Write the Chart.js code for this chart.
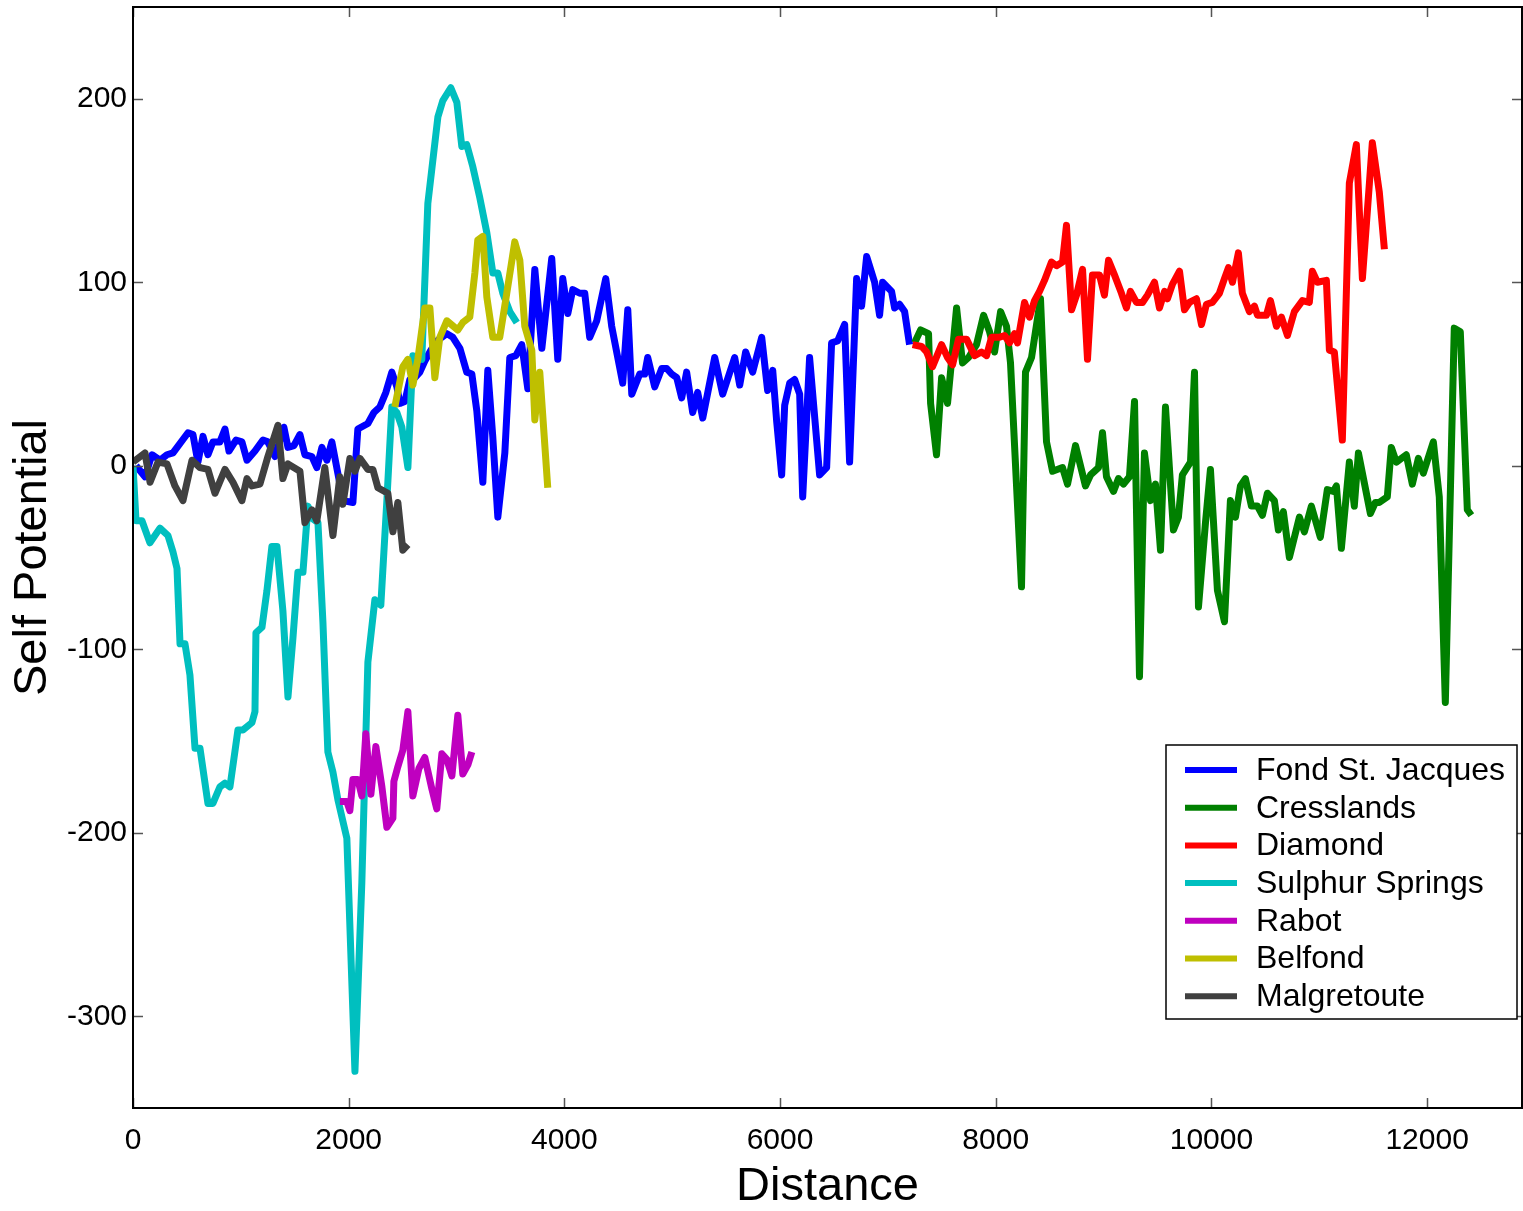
<!DOCTYPE html>
<html>
<head>
<meta charset="utf-8">
<title>Self Potential</title>
<script src="https://cdn.jsdelivr.net/npm/chart.js@4.4.1/dist/chart.umd.min.js"></script>
<style>
  body { margin: 0; background: #fff; }
  #wrap { width: 1523px; height: 1211px; }
</style>
</head>
<body>
<div id="wrap"><canvas id="spChart" width="1523" height="1211"></canvas></div>
<script>
// Series data (distance, self potential)
const fondX = [28,111,176,250,315,371,510,556,602,649,695,741,806,853,890,955,1010,1057,1131,1205,1251,1316,1399,1437,1492,1548,1594,1659,1705,1752,1798,1844,1909,1946,2039,2085,2178,2234,2289,2345,2400,2447,2475,2521,2567,2614,2660,2706,2753,2817,2910,2966,3031,3095,3142,3188,3244,3290,3336,3383,3448,3494,3550,3605,3661,3726,3791,3883,3939,3985,4032,4078,4143,4189,4235,4300,4384,4439,4541,4588,4625,4699,4745,4773,4838,4903,4949,4995,5042,5088,5134,5190,5236,5283,5394,5468,5579,5626,5681,5746,5830,5885,5932,5969,6015,6043,6089,6135,6182,6210,6274,6367,6432,6478,6534,6599,6645,6710,6756,6803,6877,6923,6951,7034,7062,7108,7155,7201];
const fondY = [0,-6,6,3,6,7,18,17,2,16,6,13,13,20,8,14,13,3,8,14,13,5,21,10,11,17,6,5,-1,10,3,13,-7,-19,-20,20,23,29,32,40,51,43,34,35,47,48,51,57,62,68,72,70,64,51,50,30,-9,52,16,-28,7,59,60,66,42,107,64,113,58,102,83,96,94,94,70,79,102,76,45,85,39,50,50,59,43,53,53,50,48,37,51,29,40,26,59,39,59,44,62,51,70,41,52,24,-5,33,45,47,39,-17,59,-5,-1,67,68,77,2,102,87,114,100,82,100,95,86,88,84,66];

const cressX = [7248,7303,7377,7396,7451,7498,7553,7637,7692,7748,7822,7887,7943,7989,8045,8100,8137,8239,8276,8332,8415,8471,8527,8619,8666,8740,8832,8879,8953,8990,9027,9092,9138,9185,9240,9287,9333,9379,9435,9481,9528,9574,9648,9694,9731,9806,9843,9880,9945,9991,10056,10121,10176,10223,10269,10315,10371,10427,10473,10519,10584,10621,10667,10723,10816,10862,10927,11010,11075,11131,11159,11205,11279,11325,11363,11474,11520,11557,11631,11668,11715,11807,11863,11919,11965,12058,12113,12169,12252,12308,12373,12410];
const cressY = [67,74,72,34,6,48,34,86,56,59,66,82,73,62,84,76,56,-66,51,59,91,13,-3,-1,-10,11,-11,-5,-1,18,-6,-14,-7,-10,-6,35,-115,7,-19,-10,-46,32,-35,-28,-5,2,51,-77,-31,-2,-68,-85,-19,-28,-11,-7,-22,-22,-27,-15,-19,-35,-25,-50,-28,-36,-22,-39,-13,-14,-11,-45,2,-22,7,-26,-20,-20,-17,10,2,6,-10,4,-4,13,-17,-129,75,73,-24,-27];

const diamondX = [7229,7312,7359,7414,7498,7553,7600,7655,7729,7804,7868,7915,7961,8035,8082,8128,8174,8202,8267,8313,8360,8406,8452,8517,8564,8619,8656,8703,8749,8805,8851,8897,8962,9008,9046,9101,9166,9212,9249,9305,9361,9407,9472,9518,9565,9592,9639,9704,9750,9796,9861,9908,9954,10009,10074,10121,10158,10195,10250,10287,10352,10399,10427,10510,10547,10603,10649,10705,10769,10844,10908,10936,10983,11066,11094,11140,11214,11279,11344,11400,11465,11492,11557,11604];
const diamondY = [66,65,62,54,66,59,55,69,69,60,62,60,70,70,71,67,72,67,89,81,90,95,101,111,109,111,131,85,93,107,58,104,104,93,112,104,94,86,95,89,89,93,100,86,95,91,99,106,85,89,91,77,88,89,94,102,108,100,116,94,84,87,82,82,90,76,81,71,84,90,89,106,100,101,63,62,14,154,175,102,154,176,149,118];

const sulphurX = [0,28,83,157,250,324,371,408,436,482,528,575,621,695,741,806,853,899,973,1019,1103,1131,1140,1196,1242,1288,1335,1390,1437,1483,1529,1576,1622,1668,1715,1761,1807,1854,1900,1983,2058,2122,2178,2243,2298,2354,2400,2447,2493,2549,2595,2678,2734,2827,2873,2947,3003,3049,3095,3151,3216,3281,3337,3383,3429,3494,3559];
const sulphurY = [0,-30,-30,-42,-34,-38,-47,-56,-97,-97,-114,-154,-154,-184,-184,-175,-173,-175,-144,-144,-140,-134,-91,-88,-68,-44,-44,-79,-126,-94,-58,-58,-22,-29,-31,-85,-156,-167,-182,-203,-330,-227,-107,-73,-76,-19,32,29,21,-1,60,58,143,190,199,206,198,174,175,163,146,127,105,105,94,84,78];

const rabotX = [1918,1983,2011,2039,2085,2122,2159,2206,2252,2308,2354,2410,2419,2456,2502,2549,2595,2651,2706,2771,2817,2864,2910,2957,3012,3058,3105,3142];
const rabotY = [-183,-183,-188,-171,-171,-180,-146,-179,-153,-175,-197,-192,-172,-164,-155,-134,-180,-165,-159,-176,-187,-157,-160,-169,-136,-168,-163,-156];

const belfondX = [2428,2502,2549,2595,2641,2706,2753,2799,2845,2910,3012,3058,3123,3170,3197,3244,3281,3336,3401,3466,3540,3587,3633,3698,3726,3772,3846];
const belfondY = [32,54,58,44,58,86,86,48,70,79,74,78,81,105,123,125,92,70,70,94,122,112,76,63,25,51,-12];

const malgX = [0,111,158,232,315,389,463,547,621,695,760,853,927,1010,1057,1103,1177,1251,1344,1390,1437,1548,1594,1659,1705,1779,1854,1918,1946,2011,2058,2104,2178,2224,2271,2363,2410,2456,2502,2549];
const malgY = [2,7,-9,2,1,-11,-19,3,-1,-2,-15,-2,-9,-19,-7,-11,-10,5,22,-7,1,-3,-31,-24,-30,-1,-38,-6,-21,4,-3,4,-2,-2,-12,-15,-36,-20,-46,-43];

// Axis ticks
const xTickValues = [0,2000,4000,6000,8000,10000,12000];
const yTickValues = [-300,-200,-100,0,100,200];

const FONT = "'Liberation Sans', Arial, sans-serif";

const series = [
    { label: "Fond St. Jacques", xs: fondX, ys: fondY, color: "#0000ff" },
    { label: "Cresslands", xs: cressX, ys: cressY, color: "#008000" },
    { label: "Diamond", xs: diamondX, ys: diamondY, color: "#ff0000" },
    { label: "Sulphur Springs", xs: sulphurX, ys: sulphurY, color: "#00bfbf" },
    { label: "Rabot", xs: rabotX, ys: rabotY, color: "#bf00bf" },
    { label: "Belfond", xs: belfondX, ys: belfondY, color: "#bfbf00" },
    { label: "Malgretoute", xs: malgX, ys: malgY, color: "#404040" }
];

const datasets = series.map((s, i) => ({
    label: s.label,
    data: s.xs.map((x, k) => ({ x: x, y: s.ys[k] })),
    borderColor: s.color,
    backgroundColor: s.color,
    borderWidth: 7,
    pointRadius: 0,
    tension: 0,
    borderJoinStyle: "round",
    fill: false,
    order: series.length - i   // later series drawn on top
}));

// Frame with inward ticks on all four sides
const framePlugin = {
    id: "frame",
    afterDatasetsDraw(chart) {
        const ctx = chart.ctx;
        const a = chart.chartArea;
        const xs = chart.scales.x, ys = chart.scales.y;
        const len = 10;
        ctx.save();
        ctx.strokeStyle = "#555";
        ctx.lineWidth = 1.5;
        ctx.beginPath();
        xTickValues.forEach(v => {
            const px = Math.round(xs.getPixelForValue(v)) + 0.5;
            ctx.moveTo(px, a.bottom); ctx.lineTo(px, a.bottom - len);
            ctx.moveTo(px, a.top); ctx.lineTo(px, a.top + len);
        });
        yTickValues.forEach(v => {
            const py = Math.round(ys.getPixelForValue(v)) + 0.5;
            ctx.moveTo(a.left, py); ctx.lineTo(a.left + len, py);
            ctx.moveTo(a.right, py); ctx.lineTo(a.right - len, py);
        });
        ctx.stroke();
        ctx.strokeStyle = "#000";
        ctx.lineWidth = 2;
        ctx.strokeRect(a.left, a.top, a.right - a.left, a.bottom - a.top);
        ctx.restore();
    }
};

// Boxed legend in the lower right of the plot
const legendPlugin = {
    id: "boxLegend",
    afterDraw(chart) {
        const ctx = chart.ctx;
        const a = chart.chartArea;
        const w = 351, h = 274;
        const x0 = a.right - 5 - w;
        const y0 = a.bottom - 89 - h;
        ctx.save();
        ctx.fillStyle = "#fff";
        ctx.fillRect(x0, y0, w, h);
        ctx.strokeStyle = "#000";
        ctx.lineWidth = 1.5;
        ctx.strokeRect(x0, y0, w, h);
        ctx.font = "32px " + FONT;
        ctx.textBaseline = "middle";
        series.forEach((s, i) => {
            const y = y0 + 25 + i * 37.7;
            ctx.strokeStyle = s.color;
            ctx.lineWidth = 6;
            ctx.beginPath();
            ctx.moveTo(x0 + 19, y);
            ctx.lineTo(x0 + 71, y);
            ctx.stroke();
            ctx.fillStyle = "#000";
            ctx.fillText(s.label, x0 + 90, y + 1);
        });
        ctx.restore();
    }
};

const ctx = document.getElementById("spChart").getContext("2d");

const chart = new Chart(ctx, {
    type: "line",
    data: { datasets: datasets },
    options: {
        responsive: false,
        animation: false,
        layout: { padding: { top: 7, right: 1, left: 0, bottom: 0 } },
        plugins: {
            legend: { display: false },
            tooltip: { enabled: false }
        },
        scales: {
            x: {
                type: "linear",
                min: 0,
                max: 12880,
                afterBuildTicks: scale => { scale.ticks = xTickValues.map(v => ({ value: v })); },
                afterFit: scale => {
                    scale.height = 103;
                    scale.paddingLeft = 0;
                    scale.paddingRight = 0;
                },
                grid: { display: false, drawTicks: false },
                border: { display: false },
                ticks: {
                    color: "#000",
                    padding: 15,
                    maxRotation: 0,
                    font: { family: FONT, size: 30 },
                    callback: v => String(v)
                },
                title: {
                    display: true,
                    text: "Distance",
                    color: "#000",
                    padding: 0,
                    font: { family: FONT, size: 47, lineHeight: 1.0 }
                }
            },
            y: {
                type: "linear",
                min: -350,
                max: 250,
                afterBuildTicks: scale => { scale.ticks = yTickValues.map(v => ({ value: v })); },
                afterFit: scale => {
                    scale.width = 133;
                    scale.paddingTop = 0;
                    scale.paddingBottom = 0;
                },
                grid: { display: false, drawTicks: false },
                border: { display: false },
                ticks: {
                    color: "#000",
                    padding: 6,
                    font: { family: FONT, size: 30 },
                    callback: v => String(v)
                },
                title: {
                    display: true,
                    text: "Self Potential",
                    color: "#000",
                    padding: 0,
                    font: { family: FONT, size: 47, lineHeight: 1.4 }
                }
            }
        }
    },
    plugins: [framePlugin, legendPlugin]
});
</script>
</body>
</html>
